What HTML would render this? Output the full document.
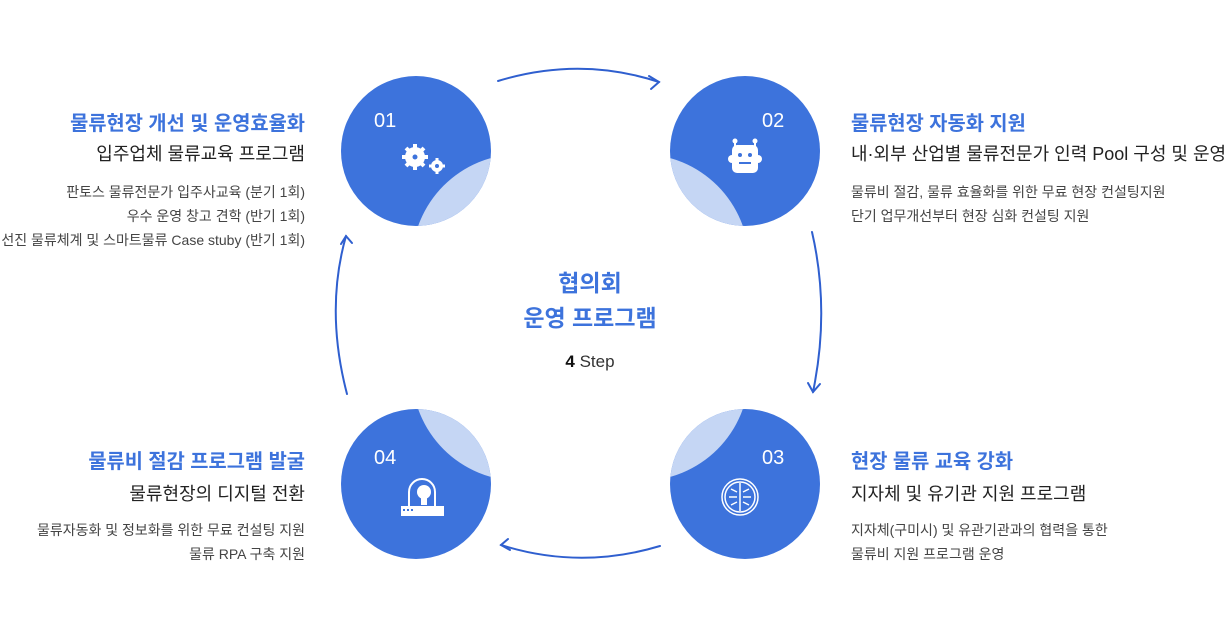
<!DOCTYPE html>
<html><head><meta charset="utf-8"><style>
html,body{margin:0;padding:0;background:#fff;}
body{width:1225px;height:628px;position:relative;overflow:hidden;font-family:"Liberation Sans","Noto Sans CJK KR",sans-serif;}
.t{position:absolute;white-space:nowrap;}
.h{font-size:19.8px;font-weight:bold;color:#3d73dc;}
.s{font-size:18px;color:#222;}
.l{font-size:14px;color:#444;line-height:24px;}
.r{text-align:right;}
</style></head><body>
<svg width="1225" height="628" style="position:absolute;left:0;top:0" xmlns="http://www.w3.org/2000/svg">
<defs>
<clipPath id="c1"><circle cx="416" cy="151" r="75"/></clipPath>
<clipPath id="c2"><circle cx="745" cy="151" r="75"/></clipPath>
<clipPath id="c3"><circle cx="745" cy="484" r="75"/></clipPath>
<clipPath id="c4"><circle cx="416" cy="484" r="75"/></clipPath>
</defs>
<circle cx="416" cy="151" r="75" fill="#3d73dc"/>
<circle cx="520" cy="262" r="108" fill="#c5d6f4" clip-path="url(#c1)"/>
<circle cx="745" cy="151" r="75" fill="#3d73dc"/>
<circle cx="641" cy="262" r="108" fill="#c5d6f4" clip-path="url(#c2)"/>
<circle cx="745" cy="484" r="75" fill="#3d73dc"/>
<circle cx="641" cy="373" r="108" fill="#c5d6f4" clip-path="url(#c3)"/>
<circle cx="416" cy="484" r="75" fill="#3d73dc"/>
<circle cx="520" cy="373" r="108" fill="#c5d6f4" clip-path="url(#c4)"/>
<g fill="none" stroke="#2f5fcf" stroke-width="2" stroke-linecap="round">
<path d="M498 81 Q580 56 659 82"/><path d="M649 76 L659 82 L651 89"/>
<path d="M812 232 Q830 310 813 392"/><path d="M808 383 L813 392 L820 384"/>
<path d="M660 546 Q580 570 501 545"/><path d="M508 539 L501 545 L510 550"/>
<path d="M347 394 Q325 310 346 236"/><path d="M341 244 L346 236 L352 243"/>
</g>
<g font-family="Liberation Sans, sans-serif" font-size="20" fill="#fff">
<text x="374" y="127">01</text><text x="762" y="127">02</text>
<text x="762" y="464">03</text><text x="374" y="464">04</text>
</g>
<g fill="#fff">
<circle cx="415" cy="157" r="10"/>
<g stroke="#fff" stroke-width="4"><line x1="415" y1="144" x2="415" y2="170"/><line x1="402" y1="157" x2="428" y2="157"/><line x1="406" y1="148" x2="424" y2="166"/><line x1="424" y1="148" x2="406" y2="166"/></g>
<circle cx="437" cy="166" r="6"/>
<g stroke="#fff" stroke-width="3"><line x1="437" y1="158" x2="437" y2="174"/><line x1="429" y1="166" x2="445" y2="166"/></g>
</g>
<circle cx="415" cy="157" r="2.5" fill="#3d73dc"/><circle cx="437" cy="166" r="2" fill="#3d73dc"/>
<g fill="#fff">
<rect x="732" y="145" width="26" height="28" rx="5"/>
<rect x="728" y="155" width="34" height="8" rx="4"/>
<circle cx="735" cy="141" r="2.5"/><circle cx="755" cy="141" r="2.5"/>
<rect x="734" y="141" width="2" height="6"/><rect x="754" y="141" width="2" height="6"/>
</g>
<g fill="#3d73dc"><circle cx="740" cy="155" r="2"/><circle cx="750" cy="155" r="2"/><rect x="739" y="162" width="12" height="2"/></g>
<g fill="none" stroke="#fff" stroke-width="1.5">
<circle cx="740" cy="497" r="18"/><circle cx="740" cy="497" r="15"/>
<line x1="740" y1="483" x2="740" y2="511"/>
<path d="M731 489 L737 492 M729 497 L737 497 M731 505 L737 502 M749 489 L743 492 M751 497 L743 497 M749 505 L743 502"/>
</g>
<g fill="none" stroke="#fff" stroke-width="2">
<path d="M409 506 V492 A13 13 0 0 1 435 492 V506"/>
</g>
<g fill="#fff">
<circle cx="424" cy="492" r="7"/><rect x="421" y="497" width="6" height="8"/>
<rect x="401" y="506" width="43" height="10"/>
</g>
<g fill="#3d73dc"><rect x="403" y="509" width="2" height="2"/><rect x="407" y="509" width="2" height="2"/><rect x="411" y="509" width="2" height="2"/></g>
</svg>

<div class="t h r" style="right:920px;top:107px;">물류현장 개선 및 운영효율화</div>
<div class="t s r" style="right:920px;top:140px;">입주업체 물류교육 프로그램</div>
<div class="t l r" style="right:920px;top:180px;">판토스 물류전문가 입주사교육 (분기 1회)<br>우수 운영 창고 견학 (반기 1회)<br>선진 물류체계 및 스마트물류 Case stuby (반기 1회)</div>

<div class="t h" style="left:851px;top:107px;">물류현장 자동화 지원</div>
<div class="t s" style="left:851px;top:140px;">내·외부 산업별 물류전문가 인력 Pool 구성 및 운영</div>
<div class="t l" style="left:851px;top:180px;">물류비 절감, 물류 효율화를 위한 무료 현장 컨설팅지원<br>단기 업무개선부터 현장 심화 컨설팅 지원</div>

<div class="t h" style="left:851px;top:445px;">현장 물류 교육 강화</div>
<div class="t s" style="left:851px;top:480px;">지자체 및 유기관 지원 프로그램</div>
<div class="t l" style="left:851px;top:518px;">지자체(구미시) 및 유관기관과의 협력을 통한<br>물류비 지원 프로그램 운영</div>

<div class="t h r" style="right:920px;top:445px;">물류비 절감 프로그램 발굴</div>
<div class="t s r" style="right:920px;top:480px;">물류현장의 디지털 전환</div>
<div class="t l r" style="right:920px;top:518px;">물류자동화 및 정보화를 위한 무료 컨설팅 지원<br>물류 RPA 구축 지원</div>

<div class="t" style="left:480px;width:220px;text-align:center;top:266px;font-size:23px;font-weight:bold;color:#3d73dc;line-height:35px;">협의회<br>운영 프로그램</div>
<div class="t" style="left:480px;width:220px;text-align:center;top:352px;font-size:17px;color:#333;"><b style="color:#111">4</b> Step</div>
</body></html>
